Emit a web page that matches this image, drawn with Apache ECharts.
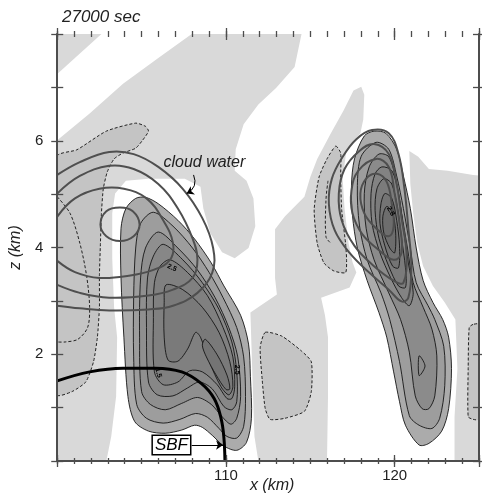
<!DOCTYPE html>
<html>
<head>
<meta charset="utf-8">
<script src="https://cdn.jsdelivr.net/npm/echarts@6/dist/echarts.min.js"></script>
<style>
html, body { margin: 0; padding: 0; background: #fff; }
#chart { width: 482px; height: 499px; }
</style>
</head>
<body>
<div id="chart"></div>
<script>
// all vertices are [x (km), z (km)]

// light grey field
const lightGray = [
    [[100, 8], [102.62, 8], [100, 7.25]],
    [[100, 6.01], [101.92, 6.51], [103.90, 7.07], [105.99, 7.55], [107.97, 8], [114.48, 8], [114.07, 7.38], [112.97, 6.99], [111.92, 6.68], [111.05, 6.31], [110.58, 5.84], [110.52, 5.44], [111.22, 5.25], [111.63, 4.92], [111.74, 4.40], [111.34, 3.99], [110.52, 3.80], [109.77, 3.91], [109.07, 4.27], [108.66, 4.73], [108.49, 5.14], [107.56, 5.29], [105.41, 5.29], [104.07, 5.25], [103.43, 5.01], [103.26, 4.64], [103.26, 3.80], [103.37, 2.88], [103.55, 2.32], [103.49, 1.21], [103.20, 0.46], [102.91, 0], [100, 0]],
    [[118.02, 7.01], [118.20, 6.86], [118.14, 6.40], [117.97, 6.14], [117.15, 5.84], [116.92, 5.29], [117.03, 4.73], [117.27, 4.08], [117.50, 3.73], [117.73, 3.53], [117.33, 3.25], [115.64, 3.06], [115.87, 2.73], [116.05, 2.32], [116.05, 1.21], [115.99, 0], [111.92, 0], [111.69, 0.46], [111.57, 1.58], [111.45, 2.78], [113.02, 3.12], [112.91, 3.43], [112.91, 4.34], [113.49, 4.58], [114.65, 4.95], [115.00, 5.32], [115.41, 5.66], [116.22, 6.14], [116.98, 6.57], [117.56, 6.94]],
    [[120.87, 5.81], [121.40, 5.70], [122.03, 5.47], [123.14, 5.44], [124.65, 5.36], [125.2, 5.34], [125.2, 0], [123.55, 0], [123.55, 0.83], [123.72, 1.73], [123.60, 2.65], [122.97, 2.97], [122.27, 3.28], [121.69, 3.65], [121.34, 4.08], [121.10, 4.64], [120.93, 5.19]]
];

// negative areas (dashed outline)
const dashedAreas = [
    [[100, 5.71], [101.16, 5.83], [102.91, 6.18], [104.65, 6.33], [105.23, 6.27], [105.41, 6.18], [105.06, 6.01], [104.65, 5.86], [103.90, 5.77], [103.37, 5.66], [102.97, 5.42], [102.73, 5.10], [102.62, 4.64], [102.56, 4.08], [102.50, 3.47], [102.50, 2.88], [102.38, 2.32], [102.15, 1.86], [101.69, 1.48], [100.87, 1.30], [100, 1.24]],
    [[116.51, 5.90], [116.80, 5.77], [116.80, 5.32], [116.86, 4.71], [117.09, 4.08], [117.15, 3.78], [117.09, 3.53], [116.40, 3.56], [115.81, 3.71], [115.41, 4.08], [115.23, 4.71], [115.52, 5.32], [115.99, 5.66]],
    [[112.33, 2.41], [113.31, 2.34], [114.48, 2.06], [115.06, 1.86], [115.06, 1.30], [114.65, 0.93], [113.49, 0.80], [112.62, 0.78], [112.33, 0.98], [112.15, 1.52], [112.03, 2.13]],
    [[124.65, 2.56], [124.42, 2.50], [124.36, 1.76], [124.36, 0.83], [124.65, 0.78], [125.2, 0.78], [125.2, 2.56]]
];
const dashedLines = [
    [[100, 4.95], [100.76, 4.64], [101.34, 4.08], [101.74, 3.47], [101.92, 2.88], [101.80, 2.50], [101.22, 2.28], [100.47, 2.23], [100, 2.23]],
    [[116.05, 5.25], [115.93, 4.90], [115.93, 4.20], [116.22, 4.08]]
];

// left cell, outer to inner
const leftCell = [
    [[105.23, 4.94], [105.99, 4.82], [107.15, 4.51], [108.14, 4.16], [109.13, 3.71], [109.88, 3.28], [110.87, 2.73], [111.34, 2.19], [111.45, 1.58], [111.51, 0.80], [111.22, 0.35], [110.64, 0.20], [109.88, 0.28], [109.19, 0.48], [108.60, 0.63], [108.14, 0.67], [107.38, 0.58], [106.40, 0.52], [105.41, 0.56], [104.59, 0.74], [104.19, 1.21], [103.95, 2.32], [103.78, 3.43], [103.78, 4.36], [104.07, 4.73], [104.65, 4.92]],
    [[105.70, 4.66], [106.86, 4.40], [108.02, 3.99], [109.01, 3.53], [109.83, 3.06], [110.64, 2.50], [111.05, 1.95], [111.16, 1.21], [111.05, 0.65], [110.64, 0.43], [110.06, 0.46], [109.59, 0.61], [108.90, 0.82], [108.20, 0.89], [107.27, 0.78], [106.28, 0.71], [105.29, 0.80], [104.71, 1.06], [104.53, 1.95], [104.53, 3.06], [104.65, 3.99], [104.94, 4.45]],
    [[105.99, 4.29], [107.15, 3.99], [108.31, 3.58], [109.36, 3.06], [110.17, 2.50], [110.70, 1.95], [110.87, 1.21], [110.64, 0.80], [110.29, 0.69], [109.77, 0.83], [109.13, 1.06], [108.31, 1.19], [107.38, 1.08], [106.40, 0.96], [105.52, 1.06], [105.00, 1.30], [104.88, 2.32], [104.94, 3.43], [105.23, 3.99]],
    [[106.28, 4.06], [107.44, 3.77], [108.60, 3.34], [109.59, 2.84], [110.35, 2.23], [110.64, 1.67], [110.64, 1.11], [110.35, 0.96], [109.88, 1.02], [109.19, 1.35], [108.43, 1.48], [107.73, 1.37], [106.86, 1.22], [105.93, 1.24], [105.41, 1.48], [105.29, 2.50], [105.35, 3.43], [105.70, 3.84]],
    [[106.69, 3.77], [107.73, 3.53], [108.90, 3.10], [109.83, 2.50], [110.41, 1.95], [110.52, 1.39], [110.35, 1.17], [110.06, 1.17], [109.48, 1.43], [108.60, 1.67], [107.85, 1.69], [107.15, 1.48], [106.28, 1.43], [105.76, 1.67], [105.70, 2.69], [105.76, 3.34], [106.10, 3.65]],
    [[106.45, 3.30], [107.44, 3.21], [108.60, 2.88], [109.59, 2.41], [110.23, 1.86], [110.41, 1.39], [110.17, 1.24], [109.71, 1.39], [109.01, 1.86], [108.49, 2.32], [108.20, 2.41], [107.73, 2.10], [107.15, 1.87], [106.57, 1.89], [106.34, 2.32], [106.34, 2.97]],
    [[108.78, 2.28], [109.48, 1.99], [110.06, 1.61], [110.23, 1.35], [110.00, 1.34], [109.42, 1.61], [108.84, 1.95], [108.60, 2.17]]
];

// right cell, outer to inner
const rightCell = [
    [[118.78, 6.18], [119.48, 6.14], [120.12, 5.84], [120.52, 5.34], [120.93, 4.73], [121.28, 3.99], [121.69, 3.38], [122.27, 2.97], [122.85, 2.65], [123.20, 2.32], [123.37, 1.73], [123.20, 0.98], [122.79, 0.56], [122.03, 0.33], [121.45, 0.30], [120.64, 0.67], [120.29, 1.11], [119.94, 1.67], [119.53, 2.32], [119.07, 2.78], [118.37, 3.38], [117.79, 3.99], [117.50, 4.60], [117.44, 5.16], [117.62, 5.66], [118.20, 6.09]],
    [[118.90, 5.97], [119.65, 5.84], [120.12, 5.34], [120.52, 4.73], [120.93, 3.99], [121.28, 3.34], [121.98, 2.91], [122.38, 2.65], [122.91, 2.15], [122.97, 1.41], [122.67, 0.80], [122.21, 0.61], [121.45, 0.67], [120.87, 0.85], [120.29, 1.86], [119.71, 2.65], [119.19, 3.15], [118.37, 3.77], [117.91, 4.42], [117.79, 5.16], [118.02, 5.71]],
    [[119.07, 5.75], [119.65, 5.70], [120.06, 5.29], [120.41, 4.64], [120.76, 3.99], [121.10, 3.34], [121.69, 2.88], [122.21, 2.47], [122.50, 1.97], [122.38, 1.22], [122.03, 0.98], [121.63, 0.98], [121.22, 1.22], [120.87, 2.04], [120.35, 2.65], [119.65, 3.15], [118.78, 3.77], [118.31, 4.36], [118.20, 5.01], [118.49, 5.51]],
    [[119.24, 5.51], [119.83, 5.44], [120.23, 5.01], [120.52, 4.36], [120.81, 3.71], [121.10, 3.15], [120.87, 2.91], [120.41, 3.06], [119.77, 3.43], [119.13, 3.90], [118.66, 4.45], [118.60, 5.01], [118.84, 5.38]],
    [[119.36, 5.29], [119.83, 5.19], [120.17, 4.73], [120.41, 4.17], [120.64, 3.62], [120.64, 3.25], [120.23, 3.28], [119.65, 3.65], [119.07, 4.17], [118.84, 4.69], [118.95, 5.10]],
    [[119.42, 5.01], [119.83, 4.92], [120.12, 4.51], [120.29, 4.03], [120.23, 3.62], [119.88, 3.65], [119.42, 4.03], [119.13, 4.45], [119.19, 4.82]],
    [[119.53, 4.77], [119.88, 4.64], [120.06, 4.27], [120.00, 3.90], [119.71, 3.99], [119.36, 4.27], [119.30, 4.58]],
    [[121.45, 1.97], [121.80, 1.78], [121.45, 1.60]]
];

// cloud water contours
const cloudOpen = [
    [[100, 5.36], [101.34, 5.60], [103.08, 5.79], [104.53, 5.75], [105.99, 5.51], [107.44, 5.10], [108.60, 4.55], [109.24, 3.99], [109.19, 3.53], [108.31, 3.15], [106.86, 2.91], [105.41, 2.84], [103.08, 2.82], [101.34, 2.86], [100, 2.91]],
    [[100, 5.01], [101.34, 5.34], [103.08, 5.53], [104.53, 5.47], [105.99, 5.19], [107.15, 4.73], [108.02, 4.17], [108.31, 3.77], [108.02, 3.43], [106.86, 3.21], [105.41, 3.10], [103.08, 3.06], [101.34, 3.15], [100, 3.30]],
    [[100, 4.58], [101.05, 4.92], [102.50, 5.10], [103.95, 5.10], [105.29, 4.92], [106.28, 4.51], [106.86, 4.08], [106.69, 3.77], [105.70, 3.58], [104.24, 3.47], [102.50, 3.43], [101.05, 3.54], [100, 3.75]]
];
const cloudClosed = [
    [[103.72, 4.75], [104.48, 4.68], [104.88, 4.43], [104.53, 4.21], [103.72, 4.12], [102.91, 4.21], [102.56, 4.43], [102.91, 4.68]],
    [[118.66, 6.20], [119.65, 6.14], [120.23, 5.75], [120.58, 5.10], [120.81, 4.36], [120.99, 3.62], [120.81, 3.06], [120.41, 2.99], [119.65, 3.21], [118.49, 3.53], [117.33, 3.90], [116.45, 4.32], [116.10, 4.82], [116.28, 5.29], [116.92, 5.70], [117.73, 6.03]],
    [[118.78, 5.94], [119.65, 5.75], [120.12, 5.19], [120.41, 4.55], [120.70, 3.90], [120.52, 3.34], [119.94, 3.38], [118.78, 3.65], [117.62, 4.03], [116.86, 4.51], [116.69, 5.01], [117.03, 5.47], [117.91, 5.81]],
    [[118.90, 5.66], [119.65, 5.51], [120.00, 5.01], [120.29, 4.45], [120.41, 3.90], [119.94, 3.77], [119.07, 3.95], [118.08, 4.25], [117.50, 4.64], [117.44, 5.06], [117.85, 5.44]],
    [[118.95, 5.38], [119.53, 5.23], [119.83, 4.82], [119.94, 4.40], [119.65, 4.21], [118.90, 4.36], [118.20, 4.64], [117.97, 5.01], [118.31, 5.29]]
];

// sea-breeze front
const sbfLine = [[100, 1.50], [101.92, 1.67], [103.90, 1.74], [105.81, 1.74], [107.38, 1.67], [108.55, 1.45], [109.30, 1.17], [109.71, 0.80], [109.88, 0.43], [109.94, 0.0]];

// annotations
const noteText = ['2.5', '1.5', '2.5', '2.8'];
const notePos = [[106.80, 3.62], [105.99, 1.65], [110.64, 1.71], [119.77, 4.68]];
const noteRot = [-25, -75, -90, -60];
const cloudLabelPos = [108.72, 5.60];
const cloudArrow = [[108.08, 5.36], [107.67, 5.01]];
const sbfLabelPos = [106.77, 0.30];
const sbfArrow = [[107.97, 0.30], [109.83, 0.30]];

const xMin = 100, xMax = 125, zMin = 0, zMax = 8;

const FONT = '"Liberation Sans", Arial, sans-serif';
const axisColor = '#4d4d4d';
const lightFill = '#d9d9d9';
const dashFill = '#c4c4c4';
const leftShades = ['#ababab', '#9d9d9d', '#8f8f8f', '#878787', '#808080', '#7a7a7a', '#747474'];
const rightShades = ['#ababab', '#9d9d9d', '#8b8b8b', '#838383', '#7b7b7b', '#747474', '#6d6d6d', '#8b8b8b'];

const clipRect = cs => ({ type: 'rect', shape: { x: cs.x, y: cs.y, width: cs.width, height: cs.height } });

const shapeSeries = (polys, closed, smooth, styleOf, z) => ({
    type: 'custom',
    coordinateSystem: 'cartesian2d',
    silent: true,
    z: z,
    data: polys.map(p => p[0]),
    renderItem: (params, api) => {
        const pts = polys[params.dataIndex].map(p => api.coord(p));
        return {
            type: 'group',
            clipPath: clipRect(params.coordSys),
            children: [{
                type: closed ? 'polygon' : 'polyline',
                shape: { points: pts, smooth: smooth },
                style: styleOf(params.dataIndex)
            }]
        };
    }
});

const textSeries = (positions, textOf, z) => ({
    type: 'custom',
    coordinateSystem: 'cartesian2d',
    silent: true,
    z: z,
    data: positions,
    renderItem: (params, api) => {
        const p = api.coord(positions[params.dataIndex]);
        const t = textOf(params.dataIndex);
        return {
            type: 'text',
            x: p[0],
            y: p[1],
            rotation: (t.rot || 0) * Math.PI / 180,
            style: Object.assign({ align: 'center', verticalAlign: 'middle', fill: '#000' }, t.style)
        };
    }
});

const tickAxis = (dim, position, interval, offset, len, extra) => Object.assign({
    type: 'value',
    position: position,
    min: dim === 'x' ? xMin : zMin,
    max: dim === 'x' ? xMax : zMax,
    interval: interval,
    offset: offset,
    z: 10,
    axisLine: { show: false },
    axisTick: { show: true, inside: false, length: len, lineStyle: { color: axisColor, width: 1.3 } },
    axisLabel: { show: false },
    splitLine: { show: false }
}, extra || {});

const lineAxis = (dim, position, extra) => Object.assign({
    type: 'value',
    position: position,
    min: dim === 'x' ? xMin : zMin,
    max: dim === 'x' ? xMax : zMax,
    interval: 1,
    z: 11,
    axisLine: { show: true, lineStyle: { color: axisColor, width: 2 } },
    axisTick: { show: false },
    axisLabel: { show: false },
    splitLine: { show: false }
}, extra || {});

const chart = echarts.init(document.getElementById('chart'));
chart.setOption({
    backgroundColor: '#fff',
    animation: false,
    title: {
        text: '27000 sec',
        left: 62,
        top: 9,
        padding: 0,
        textStyle: { fontFamily: FONT, fontStyle: 'italic', fontWeight: 'normal', fontSize: 17, color: '#222' }
    },
    grid: { left: 57, top: 34, width: 430, height: 431 },
    xAxis: [
        lineAxis('x', 'bottom', {
            name: 'x (km)',
            nameLocation: 'middle',
            nameGap: 17,
            nameTextStyle: { fontFamily: FONT, fontStyle: 'italic', fontSize: 16, color: '#222', padding: [0, 0, 0, 8] }
        }),
        tickAxis('x', 'bottom', 1, -3, 6, {
            axisLabel: {
                show: true,
                margin: 10,
                fontFamily: FONT,
                fontSize: 15,
                color: '#222',
                formatter: v => (v === 110 || v === 120) ? String(v) : ''
            }
        }),
        tickAxis('x', 'bottom', 10, -6, 12),
        lineAxis('x', 'top'),
        tickAxis('x', 'top', 1, -3, 6),
        tickAxis('x', 'top', 10, -6, 12)
    ],
    yAxis: [
        lineAxis('z', 'left', {
            name: 'z (km)',
            nameLocation: 'middle',
            nameGap: 22,
            nameRotate: 90,
            nameTextStyle: { fontFamily: FONT, fontStyle: 'italic', fontSize: 16, color: '#222' },
            axisLabel: {
                show: true,
                margin: 14,
                fontFamily: FONT,
                fontSize: 15,
                color: '#222',
                formatter: v => (v === 2 || v === 4 || v === 6) ? String(v) : ''
            }
        }),
        tickAxis('z', 'left', 1, -6, 12),
        lineAxis('z', 'right'),
        tickAxis('z', 'right', 1, -6, 12)
    ],
    series: [
        shapeSeries(lightGray, true, 0, () => ({ fill: lightFill }), 1),
        shapeSeries(dashedAreas, true, 0.2, () => ({ fill: dashFill, stroke: '#222', lineWidth: 1, lineDash: [3, 2] }), 2),
        shapeSeries(dashedLines, false, 0.3, () => ({ fill: null, stroke: '#222', lineWidth: 1, lineDash: [3, 2] }), 2),
        shapeSeries(leftCell, true, 0.3, i => ({ fill: leftShades[i], stroke: '#151515', lineWidth: 0.9 }), 3),
        shapeSeries(rightCell, true, 0.3, i => ({ fill: rightShades[i], stroke: '#151515', lineWidth: 0.9 }), 3),
        shapeSeries(cloudOpen, false, 0.4, () => ({ fill: null, stroke: '#4f4f4f', lineWidth: 2 }), 4),
        shapeSeries(cloudClosed, true, 0.4, () => ({ fill: null, stroke: '#4f4f4f', lineWidth: 2 }), 4),
        {
            type: 'line',
            data: sbfLine,
            smooth: 0.4,
            symbol: 'none',
            silent: true,
            z: 5,
            lineStyle: { color: '#000', width: 3 }
        },
        {
            type: 'lines',
            coordinateSystem: 'cartesian2d',
            silent: true,
            z: 6,
            symbol: ['none', 'arrow'],
            symbolSize: 7,
            lineStyle: { color: '#000', width: 1, opacity: 1 },
            data: [
                { coords: sbfArrow },
                { coords: cloudArrow, lineStyle: { curveness: 0.45 } }
            ]
        },
        textSeries(notePos, i => ({
            rot: noteRot[i],
            style: { text: noteText[i], font: 'bold 7px ' + FONT }
        }), 6),
        textSeries([cloudLabelPos], () => ({
            style: { text: 'cloud water', font: 'italic 16px ' + FONT, fill: '#222' }
        }), 6),
        textSeries([sbfLabelPos], () => ({
            style: {
                text: 'SBF',
                font: 'italic 17px ' + FONT,
                backgroundColor: '#fff',
                borderColor: '#000',
                borderWidth: 1.5,
                padding: [1, 2, 0, 2]
            }
        }), 6)
    ]
});
</script>
</body>
</html>
